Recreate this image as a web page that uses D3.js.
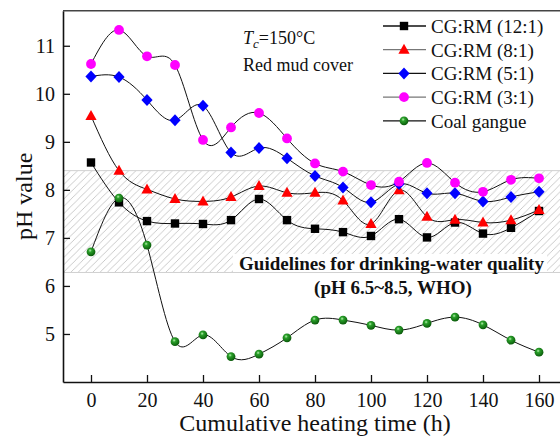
<!DOCTYPE html>
<html><head><meta charset="utf-8">
<script src="https://cdn.jsdelivr.net/npm/d3@7"></script>
<style>
body{margin:0;background:#fff;}
svg text{font-family:"Liberation Serif","Times New Roman",serif;fill:#111;}
</style></head>
<body><svg id="c" width="560" height="437" font-family="Liberation Serif, Times New Roman, serif"></svg>
<script>
const hours = [0,10,20,30,40,50,60,70,80,90,100,110,120,130,140,150,160];
const cg12 = [8.57,7.74,7.35,7.30,7.29,7.37,7.81,7.37,7.19,7.12,7.04,7.39,7.01,7.32,7.09,7.21,7.56];
const cg8  = [9.54,8.40,8.01,7.81,7.76,7.85,8.08,7.94,7.94,7.78,7.29,7.99,7.44,7.38,7.32,7.37,7.58];
const cg5  = [10.36,10.35,9.87,9.45,9.75,8.78,8.87,8.66,8.29,8.05,7.74,8.12,7.93,7.93,7.76,7.85,7.96];
const cg3  = [10.62,11.33,10.78,10.60,9.04,9.30,9.60,9.07,8.55,8.38,8.10,8.17,8.56,8.15,7.96,8.21,8.24];
const coal = [6.71,7.83,6.85,4.84,4.98,4.53,4.58,4.92,5.29,5.29,5.18,5.08,5.22,5.35,5.19,4.87,4.62];
const seriesNames = ["CG:RM (12:1)","CG:RM (8:1)","CG:RM (5:1)","CG:RM (3:1)","Coal gangue"];
const xTicks = [0,20,40,60,80,100,120,140,160];
const yTicks = [5,6,7,8,9,10,11];
const band = [6.28, 8.4];

const FONT = "Liberation Serif, Times New Roman, serif";
const svg = d3.select("#c");
const L=63, R=567, T=10.7, B=382;
const x = d3.scaleLinear().domain([-10,170]).range([L,R]);
const y = d3.scaleLinear().domain([4,11.73]).range([B,T]);

const defs = svg.append("defs");
const pat = defs.append("pattern").attr("id","hatch").attr("patternUnits","userSpaceOnUse")
  .attr("width",7.3).attr("height",7.3);
pat.append("path").attr("d","M-1,8.3 L8.3,-1 M-1,1 L1,-1 M6.3,8.3 L8.3,6.3").attr("stroke","#bdbdbd").attr("stroke-width",0.8);
const rg = defs.append("radialGradient").attr("id","ball").attr("cx","40%").attr("cy","35%").attr("r","65%");
rg.append("stop").attr("offset","0%").attr("stop-color","#b8f0b0");
rg.append("stop").attr("offset","30%").attr("stop-color","#2aa02a");
rg.append("stop").attr("offset","100%").attr("stop-color","#0a5a0a");
defs.append("clipPath").attr("id","clip").append("rect").attr("x",L).attr("y",T).attr("width",R-L).attr("height",B-T);

// band
svg.append("rect").attr("x",L).attr("width",R-L).attr("y",y(band[1])).attr("height",y(band[0])-y(band[1]))
  .attr("fill","url(#hatch)").attr("stroke","none");
svg.append("line").attr("x1",L).attr("x2",R).attr("y1",y(band[1])).attr("y2",y(band[1])).attr("stroke","#d0d0d0");
svg.append("line").attr("x1",L).attr("x2",R).attr("y1",y(band[0])).attr("y2",y(band[0])).attr("stroke","#d0d0d0");
// white box behind guideline text
svg.append("rect").attr("x",233).attr("y",254).attr("width",314).attr("height",y(band[0])-254-0.5).attr("fill","#fff");
svg.append("text").attr("x",391.5).attr("y",270).attr("text-anchor","middle").attr("font-weight","bold").attr("font-size",19)
  .attr("font-family",FONT).text("Guidelines for drinking-water quality");
svg.append("text").attr("x",393).attr("y",294).attr("text-anchor","middle").attr("font-weight","bold").attr("font-size",19)
  .attr("font-family",FONT).text("(pH 6.5~8.5, WHO)");

// axes
const gx = svg.append("g").attr("transform",`translate(0,${B})`)
  .call(d3.axisBottom(x).tickValues(xTicks).tickSizeInner(-7).tickSizeOuter(0).tickPadding(11));
const gy = svg.append("g").attr("transform",`translate(${L},0)`)
  .call(d3.axisLeft(y).tickValues(yTicks).tickSizeInner(-7).tickSizeOuter(0).tickPadding(11));
[gx,gy].forEach(g=>{
  g.attr("font-family",FONT);
  g.select(".domain").attr("stroke","#111").attr("stroke-width",1.6);
  g.selectAll(".tick line").attr("stroke","#111").attr("stroke-width",1.3);
  g.selectAll(".tick text").attr("font-size",20).attr("font-family",FONT).attr("fill","#111");
});
gy.selectAll(".tick text").attr("x",-8);
svg.append("line").attr("x1",L).attr("x2",560).attr("y1",T).attr("y2",T).attr("stroke","#444").attr("stroke-width",1.6);

svg.append("text").attr("x",(L+R)/2).attr("y",431).attr("text-anchor","middle").attr("font-size",24)
  .attr("font-family",FONT).text("Cumulative heating time (h)");
svg.append("text").attr("transform",`translate(32,${(T+B)/2}) rotate(-90)`).attr("text-anchor","middle").attr("font-size",24)
  .attr("font-family",FONT).text("pH value");

// annotation
const ann = svg.append("text").attr("x",243).attr("y",44).attr("font-size",18).attr("font-family",FONT);
ann.append("tspan").attr("font-style","italic").text("T");
ann.append("tspan").attr("font-style","italic").attr("font-size",13).attr("dy",4).text("c");
ann.append("tspan").attr("dy",-4).text("=150°C");
svg.append("text").attr("x",243).attr("y",71).attr("font-size",18).attr("font-family",FONT).text("Red mud cover");

// series
const data = [cg12,cg8,cg5,cg3,coal];
const shapes = ["square","triangle","diamond","circle","ball"];
const fills = ["#000","#ff0000","#0000ff","#ff00ff","url(#ball)"];
const line = d3.line().x((d,i)=>x(hours[i])).y(d=>y(d)).curve(d3.curveNatural);
const plot = svg.append("g").attr("clip-path","url(#clip)");
data.forEach(s=>{
  plot.append("path").attr("d",line(s)).attr("fill","none").attr("stroke","#111").attr("stroke-width",1);
});
function marker(g, shape, fill, cx, cy){
  if(shape==="square") g.append("rect").attr("x",cx-4.2).attr("y",cy-4.2).attr("width",8.4).attr("height",8.4).attr("fill",fill);
  else if(shape==="triangle") g.append("path").attr("d",`M${cx},${cy-6} L${cx+5.6},${cy+4} L${cx-5.6},${cy+4}Z`).attr("fill",fill);
  else if(shape==="diamond") g.append("path").attr("d",`M${cx},${cy-6} L${cx+5.6},${cy} L${cx},${cy+6} L${cx-5.6},${cy}Z`).attr("fill",fill);
  else if(shape==="circle") g.append("circle").attr("cx",cx).attr("cy",cy).attr("r",4.9).attr("fill",fill);
  else g.append("circle").attr("cx",cx).attr("cy",cy).attr("r",4.4).attr("fill",fill);
}
const mg = svg.append("g");
data.forEach((s,k)=>{
  s.forEach((v,i)=>marker(mg, shapes[k], fills[k], x(hours[i]), y(v)));
});

// legend
const lg = svg.append("g");
const lineCols = ["#111","#777","#111","#777","#111"];
seriesNames.forEach((n,k)=>{
  const cy = 26 + k*23.7;
  lg.append("line").attr("x1",383).attr("x2",426).attr("y1",cy).attr("y2",cy).attr("stroke",lineCols[k]).attr("stroke-width",1.3);
  marker(lg, shapes[k], fills[k], 404, cy);
  lg.append("text").attr("x",431).attr("y",cy+7).attr("font-size",19).attr("font-family",FONT).text(n);
});
</script></body></html>
